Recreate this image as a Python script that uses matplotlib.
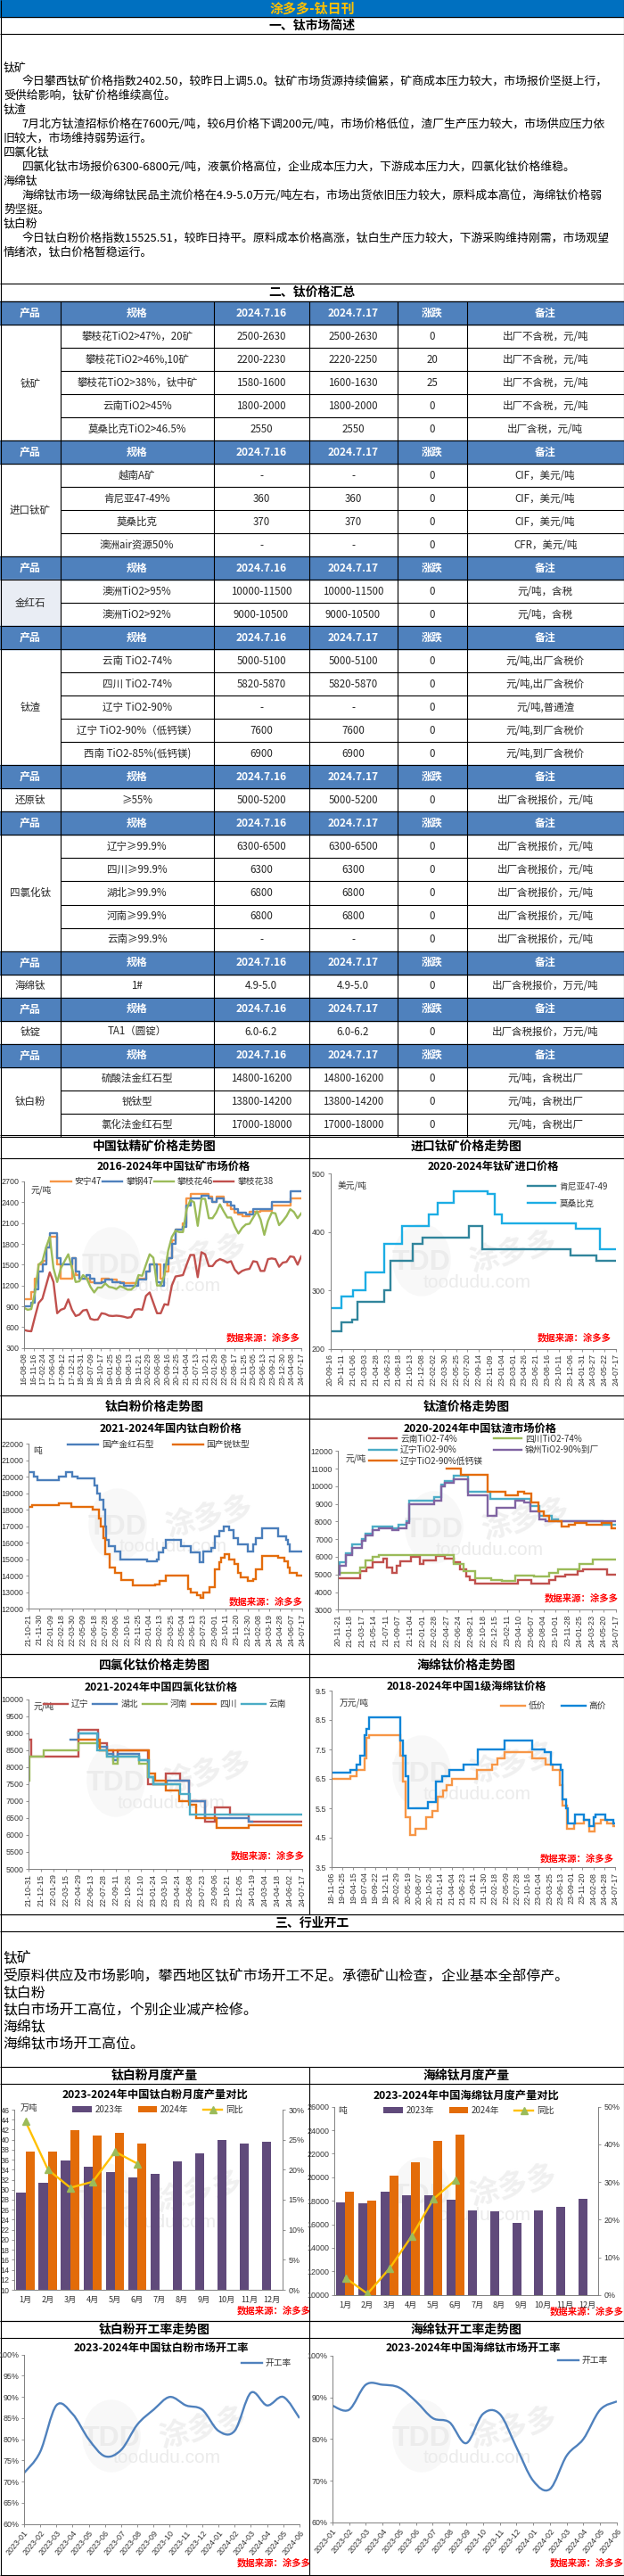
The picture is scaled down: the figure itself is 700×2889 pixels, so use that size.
import numpy as np
import matplotlib
matplotlib.use('Agg')
import matplotlib.pyplot as plt
from matplotlib.patches import Ellipse, PathPatch, Rectangle
from matplotlib.path import Path

plt.rcParams['font.family'] = ['Noto Sans CJK SC', 'DejaVu Sans']
plt.rcParams['axes.unicode_minus'] = False

# ---- text
market_lines = [
    (4, 76, '钛矿'),
    (24.5, 91, '今日攀西钛矿价格指数2402.50，较昨日上调5.0。钛矿市场货源持续偏紧，矿商成本压力较大，市场报价坚挺上行，'),
    (4, 107.5, '受供给影响，钛矿价格维续高位。'),
    (4, 123, '钛渣'),
    (24.5, 139, '7月北方钛渣招标价格在7600元/吨，较6月价格下调200元/吨，市场价格低位，渣厂生产压力较大，市场供应压力依'),
    (4, 155, '旧较大，市场维持弱势运行。'),
    (4, 171.5, '四氯化钛'),
    (24.5, 187, '四氯化钛市场报价6300-6800元/吨，液氯价格高位，企业成本压力大，下游成本压力大，四氯化钛价格维稳。'),
    (4, 203, '海绵钛'),
    (24.5, 219, '海绵钛市场一级海绵钛民品主流价格在4.9-5.0万元/吨左右，市场出货依旧压力较大，原料成本高位，海绵钛价格弱'),
    (4, 235.5, '势坚挺。'),
    (4, 251, '钛白粉'),
    (24.5, 267, '今日钛白粉价格指数15525.51，较昨日持平。原料成本价格高涨，钛白生产压力较大，下游采购维持刚需，市场观望'),
    (4, 283, '情绪浓，钛白价格暂稳运行。'),
]
industry_lines = [
    '钛矿',
    '受原料供应及市场影响，攀西地区钛矿市场开工不足。承德矿山检查，企业基本全部停产。',
    '钛白粉',
    '钛白市场开工高位，个别企业减产检修。',
    '海绵钛',
    '海绵钛市场开工高位。',
]

# ---- price tables
table_head = ['产品', '规格', '2024.7.16', '2024.7.17', '涨跌', '备注']
ore_rows = [
    ['攀枝花TiO2>47%，20矿', '2500-2630', '2500-2630', '0', '出厂不含税，元/吨'],
    ['攀枝花TiO2>46%,10矿', '2200-2230', '2220-2250', '20', '出厂不含税，元/吨'],
    ['攀枝花TiO2>38%，钛中矿', '1580-1600', '1600-1630', '25', '出厂不含税，元/吨'],
    ['云南TiO2>45%', '1800-2000', '1800-2000', '0', '出厂不含税，元/吨'],
    ['莫桑比克TiO2>46.5%', '2550', '2550', '0', '出厂含税，元/吨'],
]
import_rows = [
    ['越南A矿', '-', '-', '0', 'CIF，美元/吨'],
    ['肯尼亚47-49%', '360', '360', '0', 'CIF，美元/吨'],
    ['莫桑比克', '370', '370', '0', 'CIF，美元/吨'],
    ['澳洲air资源50%', '-', '-', '0', 'CFR，美元/吨'],
]
rutile_rows = [
    ['澳洲TiO2>95%', '10000-11500', '10000-11500', '0', '元/吨，含税'],
    ['澳洲TiO2>92%', '9000-10500', '9000-10500', '0', '元/吨，含税'],
]
slag_rows = [
    ['云南 TiO2-74%', '5000-5100', '5000-5100', '0', '元/吨,出厂含税价'],
    ['四川 TiO2-74%', '5820-5870', '5820-5870', '0', '元/吨,出厂含税价'],
    ['辽宁 TiO2-90%', '-', '-', '0', '元/吨,普通渣'],
    ['辽宁 TiO2-90%（低钙镁）', '7600', '7600', '0', '元/吨,到厂含税价'],
    ['西南 TiO2-85%(低钙镁)', '6900', '6900', '0', '元/吨,到厂含税价'],
]
reduced_rows = [['≥55%', '5000-5200', '5000-5200', '0', '出厂含税报价，元/吨']]
ticl4_rows = [
    ['辽宁≥99.9%', '6300-6500', '6300-6500', '0', '出厂含税报价，元/吨'],
    ['四川≥99.9%', '6300', '6300', '0', '出厂含税报价，元/吨'],
    ['湖北≥99.9%', '6800', '6800', '0', '出厂含税报价，元/吨'],
    ['河南≥99.9%', '6800', '6800', '0', '出厂含税报价，元/吨'],
    ['云南≥99.9%', '-', '-', '0', '出厂含税报价，元/吨'],
]
sponge_rows = [['1#', '4.9-5.0', '4.9-5.0', '0', '出厂含税报价，万元/吨']]
ingot_rows = [['TA1（圆锭）', '6.0-6.2', '6.0-6.2', '0', '出厂含税报价，万元/吨']]
white_rows = [
    ['硫酸法金红石型', '14800-16200', '14800-16200', '0', '元/吨，含税出厂'],
    ['锐钛型', '13800-14200', '13800-14200', '0', '元/吨，含税出厂'],
    ['氯化法金红石型', '17000-18000', '17000-18000', '0', '元/吨，含税出厂'],
]
table_groups = [
    ('钛矿', ore_rows), ('进口钛矿', import_rows), ('金红石', rutile_rows), ('钛渣', slag_rows),
    ('还原钛', reduced_rows), ('四氯化钛', ticl4_rows), ('海绵钛', sponge_rows),
    ('钛锭', ingot_rows), ('钛白粉', white_rows),
]

# ---- chart 1, china ore
ore_ticks = ['16-08-08', '16-11-16', '17-02-24', '17-06-04', '17-09-12', '17-12-21', '18-03-31', '18-07-09',
             '18-10-17', '19-01-25', '19-05-05', '19-08-13', '19-11-21', '20-02-29', '20-06-08', '20-09-16',
             '20-12-25', '21-04-04', '21-07-13', '21-10-21', '22-01-29', '22-05-09', '22-08-17', '22-11-25',
             '23-03-05', '23-06-13', '23-09-21', '23-12-30', '24-04-08', '24-07-17']
ore_anning = [1000, 1000, 1100, 1300, 1500, 1550, 1750, 1900, 1900, 1500, 1300, 1300, 1300, 1600, 1350, 1300, 1300, 1300, 1250, 1230,
              1230, 1300, 1300, 1280, 1280, 1250, 1250, 1240, 1240, 1240, 1240, 1300, 1300, 1400, 1500, 1500, 1500, 1300, 1400, 1600,
              1850, 2000, 2000, 2100, 2450, 2520, 2520, 2520, 2520, 2520, 2480, 2400, 2480, 2480, 2400, 2350, 2300, 2250, 2220, 2200,
              2200, 2260, 2260, 2260, 2270, 2270, 2280, 2350, 2350, 2350, 2350, 2350, 2450, 2450, 2450, 2450]
ore_pangang = [900, 900, 950, 1150, 1400, 1500, 1750, 1950, 1950, 1600, 1500, 1500, 1500, 1600, 1400, 1300, 1300, 1350, 1300, 1230,
               1230, 1250, 1280, 1280, 1250, 1250, 1230, 1200, 1200, 1200, 1200, 1280, 1280, 1400, 1500, 1500, 1250, 1200, 1500, 1600,
               1800, 2000, 2000, 2050, 2350, 2450, 2450, 2450, 2500, 2500, 2450, 2400, 2450, 2450, 2400, 2400, 2350, 2300, 2250, 2250,
               2220, 2220, 2300, 2300, 2300, 2300, 2300, 2400, 2400, 2400, 2400, 2400, 2560, 2560, 2560, 2560]
ore_pzh46 = [880, 850, 860, 1100, 1500, 1550, 1750, 1900, 1450, 1250, 1450, 1550, 1650, 1450, 1250, 1260, 1350, 1300, 1180, 1100,
             1170, 1170, 1230, 1180, 1170, 1150, 1190, 1170, 1140, 1140, 1190, 1350, 1340, 1500, 1650, 1600, 1200, 1200, 1350, 1700,
             1900, 1990, 1970, 1970, 2300, 2430, 2400, 2060, 2450, 2450, 2170, 2170, 2250, 2370, 2270, 2180, 2180, 2050, 1950, 2030,
             2080, 2090, 2180, 2270, 2150, 1930, 2130, 2250, 2240, 2070, 2130, 2200, 2300, 2260, 2170, 2240]
ore_pzh38 = [560, 545, 540, 750, 950, 1010, 1200, 1390, 1250, 800, 850, 870, 1000, 850, 760, 780, 840, 850, 720, 705,
             710, 800, 790, 765, 760, 765, 760, 750, 735, 745, 850, 860, 850, 1050, 1100, 950, 800, 800, 930, 920,
             1200, 1330, 1340, 1350, 1500, 1640, 1640, 1320, 1680, 1650, 1480, 1480, 1550, 1580, 1560, 1530, 1550, 1430, 1370, 1410,
             1430, 1440, 1550, 1540, 1410, 1410, 1580, 1590, 1580, 1470, 1530, 1540, 1620, 1610, 1500, 1620]

# ---- chart 2, imported ore (change points, in tick numbers)
imp_ticks = ['20-09-16', '20-11-11', '21-01-06', '21-03-03', '21-04-28', '21-06-23', '21-08-18', '21-10-13', '21-12-08',
             '22-02-02', '22-03-30', '22-05-25', '22-07-20', '22-09-14', '22-11-09', '23-01-04', '23-03-01', '23-04-26',
             '23-06-21', '23-08-16', '23-10-11', '23-12-06', '24-01-31', '24-03-27', '24-05-22', '24-07-17']
imp_kenya_at = [0, 1.0, 1.9, 2.4, 4.7, 5.25, 7.25, 8.1, 12.1, 13.3, 21, 23.3, 25]
imp_kenya = [230, 245, 250, 280, 300, 350, 380, 390, 410, 370, 360, 350, 350]
imp_moz_at = [0, 1.0, 2.0, 3.1, 4.7, 6.3, 8.6, 9.4, 10.8, 13.8, 14.4, 15.0, 21.5, 23.6, 25]
imp_moz = [270, 290, 300, 330, 380, 410, 430, 450, 470, 465, 430, 415, 405, 370, 370]

# ---- chart 3, titanium dioxide
tio2_ticks = ['21-10-21', '21-11-30', '22-01-09', '22-02-18', '22-03-30', '22-05-09', '22-06-18', '22-07-28', '22-09-06',
              '22-10-16', '22-11-25', '23-01-04', '23-02-13', '23-03-25', '23-05-04', '23-06-13', '23-07-23', '23-09-01',
              '23-10-11', '23-11-20', '23-12-30', '24-02-08', '24-03-19', '24-04-28', '24-06-07', '24-07-17']
tio2_rutile_at = [0, .5, .8, 2.8, 3.4, 4, 4.5, 6, 6.3, 6.5, 6.8, 7, 7.1, 7.3, 7.9, 8.4, 10.8, 11.7, 11.9, 12.3, 12.5, 13.9, 14.8, 15.6,
                  16, 16.7, 17, 17.4, 17.8, 18.3, 18.7, 19.1, 20, 20.5, 20.8, 21.3, 22.8, 23.5, 23.7, 23.9, 25]
tio2_rutile = [20300, 20000, 19800, 20000, 20300, 20000, 19900, 19500, 19000, 18600, 18000, 17000, 16200, 15800, 15500, 15000, 14900,
               15000, 15400, 15700, 16200, 15800, 15400, 14800, 15500, 15700, 16400, 16700, 17000, 16800, 16300, 15900, 15500, 15900,
               16300, 16900, 16400, 16200, 15900, 15500, 15500]
tio2_anatase_at = [0, .3, 2.8, 3.9, 5.9, 6.4, 6.6, 6.8, 7, 7.4, 7.9, 8.5, 9.5, 11.6, 12, 12.5, 14.6, 14.8, 15.4, 15.7, 16, 16.5, 17,
                   17.4, 17.6, 17.9, 18.3, 18.8, 19.1, 19.4, 20, 20.5, 20.8, 21.3, 22.8, 23.4, 23.7, 23.9, 24.5, 25]
tio2_anatase = [18200, 18300, 18400, 18200, 18000, 17500, 17000, 16300, 15300, 14500, 14200, 13750, 13400, 13500, 13700, 14000, 13200,
                13000, 12800, 12650, 13000, 13300, 14400, 14800, 15100, 15300, 15000, 14700, 14200, 13900, 13700, 13800, 14400, 15200,
                15100, 14900, 14500, 14200, 14000, 14000]

# ---- chart 4, slag
slag_ticks = ['20-11-21', '21-01-18', '21-03-17', '21-05-14', '21-07-11', '21-09-07', '21-11-04', '22-01-01', '22-02-28',
              '22-04-27', '22-06-24', '22-08-21', '22-10-18', '22-12-15', '23-02-11', '23-04-10', '23-06-07', '23-08-04',
              '23-10-01', '23-11-28', '24-01-25', '24-03-23', '24-05-20', '24-07-17']
slag_yn_at = [0, 1.9, 2.4, 2.9, 3.8, 4.1, 4.5, 4.9, 5.2, 6.1, 6.8, 7.1, 8.1, 8.9, 9.6, 10.1, 10.6, 10.9, 11.4, 14.9, 16, 17.5, 18, 18.8, 19.8, 20.3, 22.3, 23]
slag_yn = [4800, 5200, 5400, 5700, 5900, 5400, 5100, 5500, 5750, 6000, 5600, 5800, 6050, 5900, 5700, 5300, 4900, 4700, 4500, 4700, 4500, 4700, 4900, 5000, 5200, 5300, 5000, 5000]
slag_sc_at = [0, .2, 1.9, 2.3, 2.9, 3.4, 9.6, 10.4, 11.4, 12.7, 13.6, 14.7, 16.2, 17.5, 18.2, 20, 21.1, 23]
slag_sc = [5000, 5100, 5400, 5800, 6000, 6100, 5600, 5200, 4800, 4700, 4650, 4950, 4900, 5100, 5300, 5600, 5850, 5850]
slag_ln_at = [0, .2, .7, 1.2, 2, 2.3, 2.9, 4.5, 5, 5.7, 5.9, 8, 8.6, 8.9, 9.6, 10.8, 12.6, 15.9, 16.7, 17.7, 18.2, 21.9, 23]
slag_ln = [5200, 5700, 6200, 6700, 7000, 7300, 7700, 7600, 7800, 8000, 9200, 9400, 10100, 10300, 10600, 9700, 9300, 8900, 8300, 8100, 8000, 7800, 7800]
slag_jz_at = [0, .2, .7, 1.2, 2, 2.3, 2.9, 3.4, 4.5, 5, 5.7, 5.9, 8, 8.6, 8.9, 9.6, 10.8, 12.4, 13.1, 14.7, 15.4, 15.9, 16.7, 17.2, 23]
slag_jz = [5000, 5500, 6100, 6500, 6900, 7200, 7500, 7600, 7500, 7600, 7900, 9000, 9200, 10000, 10200, 10400, 9500, 8300, 8800, 9200, 9100, 8600, 8100, 8000, 8000]
slag_low_at = [9.0, 10.2, 12.4, 13.9, 14.9, 15.4, 16, 16.6, 17, 17.5, 18.5, 19.1, 19.6, 20.6, 21.8, 22.6, 23]
slag_low = [11000, 10650, 9700, 9500, 9700, 9600, 9100, 8600, 8300, 8000, 7700, 7800, 7900, 7800, 7900, 7600, 7600]

# ---- chart 5, titanium tetrachloride
tet_ticks = ['21-10-31', '21-12-15', '22-01-29', '22-03-15', '22-04-29', '22-06-13', '22-07-28', '22-09-11', '22-10-26',
             '22-12-10', '23-01-24', '23-03-10', '23-04-24', '23-06-08', '23-07-23', '23-09-06', '23-10-21', '23-12-05',
             '24-01-19', '24-03-04', '24-04-18', '24-06-02', '24-07-17']
tet_ln_at = [0, .25, 4, 5.6, 6.3, 6.8, 7.2, 9.6, 11.05, 12.2, 12.9, 14.2, 15, 16.2, 17.7, 22]
tet_ln = [8800, 8300, 9100, 8700, 8500, 8300, 8500, 7500, 7800, 7600, 7000, 6400, 6800, 6600, 6400, 6400]
tet_hb_at = [3.4, 4, 5.6, 6.3, 6.8, 7.2, 8.9, 9.6, 10, 11.1, 12.9, 14.2, 17.7, 18]
tet_hb = [8800, 9000, 8600, 8400, 8200, 8400, 8200, 7700, 7500, 7600, 7000, 6500, 6400, 6400]
tet_hn_at = [0, .05, 1.2, 4, 5.7, 6.3, 6.8, 7.2, 8.9, 9.6, 10, 12.2]
tet_hn = [7600, 8300, 8500, 8700, 8500, 8300, 8100, 8300, 8100, 7700, 7500, 7500]
tet_sc_at = [4, 5.7, 9.7, 10.2, 11, 12.1, 12.9, 13.5, 15.1, 17.7, 22]
tet_sc = [8800, 8500, 7800, 7600, 7300, 7000, 6900, 6500, 6200, 6300, 6300]
tet_yn_at = [4, 5.5, 6.3, 7.2, 8.9, 9.7, 10, 12.2, 13, 22]
tet_yn = [9000, 8500, 8300, 8300, 8200, 7700, 7500, 7200, 6600, 6600]

# ---- chart 6, sponge
spg_ticks = ['18-11-06', '19-01-25', '19-04-15', '19-07-04', '19-09-22', '19-12-11', '20-02-29', '20-05-19', '20-08-07',
             '20-10-26', '21-01-14', '21-04-04', '21-06-23', '21-09-11', '21-11-30', '22-02-18', '22-05-09', '22-07-28',
             '22-10-16', '23-01-04', '23-03-25', '23-06-13', '23-09-01', '23-11-20', '24-02-08', '24-04-28', '24-07-17']
spg_low_at = [0, 1.7, 2.3, 3, 3.2, 3.4, 6.3, 6.5, 6.75, 7.2, 7.7, 8.65, 9.2, 9.7, 10.2, 10.55, 11, 13.3, 14.7, 15.2, 15.9, 18.4, 19.6,
              20.3, 20.9, 21.2, 21.6, 22.2, 23.1, 23.6, 24.1, 24.7, 25.3, 25.8, 26]
spg_low = [6.5, 6.6, 6.8, 7.2, 7.9, 8.0, 7.3, 6.4, 5.2, 4.6, 4.8, 5.2, 5.4, 5.9, 6.1, 6.3, 6.5, 6.8, 7.0, 7.2, 7.4, 7.2, 7.0, 6.8, 6.3,
           5.6, 4.8, 5.0, 5.1, 4.7, 5.0, 5.1, 5.0, 4.9, 4.9]
spg_high_at = [0, 1.7, 2.3, 2.6, 3, 3.2, 3.4, 6.3, 6.5, 6.75, 7, 8.8, 9.6, 10.1, 10.8, 12.1, 13.4, 15.9, 18.4, 19.5, 20.1, 21, 21.2,
               21.5, 21.7, 22.3, 23.1, 23.6, 24, 24.2, 25.1, 25.8, 26]
spg_high = [6.7, 6.8, 7.0, 7.3, 8.0, 8.2, 8.6, 7.8, 7.3, 6.6, 5.5, 5.7, 6.4, 6.6, 6.8, 7.0, 7.5, 7.8, 7.5, 7.4, 7.0, 6.8, 5.8, 5.5, 5.0,
            5.3, 5.1, 4.9, 5.2, 5.3, 5.1, 5.0, 5.0]

# ---- output
months = ['1月', '2月', '3月', '4月', '5月', '6月', '7月', '8月', '9月', '10月', '11月', '12月']
tio2_out_2023 = [29.5, 31.4, 35.8, 34.6, 33.6, 32.4, 33.1, 35.6, 37.2, 39.9, 39.2, 39.5]
tio2_out_2024 = [37.7, 37.7, 41.9, 40.8, 41.4, 39.2]
tio2_out_yoy = [28, 20, 17, 18, 23, 21]
spg_out_2023 = [17900, 17750, 18800, 18450, 18450, 18100, 17200, 17100, 16150, 17150, 17500, 18200]
spg_out_2024 = [18750, 18000, 20150, 21300, 23100, 23650]
spg_out_yoy = [4.5, 0.3, 7, 15.5, 25.5, 30.5]

# ---- operating rate
rate_ticks = ['2023-01', '2023-02', '2023-03', '2023-04', '2023-05', '2023-06', '2023-07', '2023-08', '2023-09',
              '2023-10', '2023-11', '2023-12', '2024-01', '2024-02', '2024-03', '2024-04', '2024-05', '2024-06']
tio2_rate = [72, 77, 88, 86, 80, 76, 77.5, 83.5, 87, 90, 88, 87, 82, 82, 91, 88, 90, 85]
spg_rate = [88, 87, 93, 93, 92.3, 89, 85, 84, 79, 86, 86, 78, 70, 68, 76, 80, 87, 89]

W, H = 700, 2889
COLS = [0, 68, 239.5, 346.5, 445.5, 523.7, 699.5]
HEAD_BLUE = '#4F81BD'
TXT = '#262626'
LATIN = 'Liberation Sans'

fig = plt.figure(figsize=(W / 100, H / 100), dpi=100, facecolor='white')
base = fig.add_axes([0, 0, 1, 1], zorder=0)
base.set_xlim(0, W)
base.set_ylim(H, 0)
base.axis('off')


def hline(y, x0=0, x1=W):
    base.plot([x0, x1], [y, y], color='black', lw=0.8, solid_capstyle='butt', zorder=3)


def vline(x, y0, y1):
    base.plot([x, x], [y0, y1], color='black', lw=0.8, solid_capstyle='butt', zorder=3)


def ctext(x, y, s, size=8.3, color=TXT, weight='normal', **kw):
    base.text(x, y, s, ha='center', va='center', fontsize=size, color=color, fontweight=weight, zorder=4, **kw)


def band(y0, y1, s):
    hline(y0)
    hline(y1)
    ctext(W / 2, (y0 + y1) / 2, s, size=10, color='black', weight='bold')


# top of the page
base.add_patch(Rectangle((0, 0), W, 19, color='#0070C0', zorder=1))
ctext(W / 2, 10, '涂多多-钛日刊', size=10.8, color='#FFC000', weight='bold')
band(19, 38, '一、钛市场简述')
for lx, ly, s in market_lines:
    base.text(lx, ly, s, ha='left', va='center', fontsize=9.3, color='black')
band(318, 338, '二、钛价格汇总')

# tables
y = 338
row_h = 26.02
for product, rows in table_groups:
    base.add_patch(Rectangle((0, y), W, row_h, color=HEAD_BLUE, zorder=1))
    for i, s in enumerate(table_head):
        ctext((COLS[i] + COLS[i + 1]) / 2, y + row_h / 2, s, color='white', weight='bold', size=8.6)
    for c in COLS[1:-1]:
        vline(c, y, y + row_h)
    hline(y)
    y += row_h
    top = y
    if product == '金红石':
        base.add_patch(Rectangle((0, y), COLS[1], row_h * len(rows), color='#E9EDF4', zorder=1))
    for row in rows:
        for i, s in enumerate(row):
            ctext((COLS[i + 1] + COLS[i + 2]) / 2, y + row_h / 2, s)
        hline(y, COLS[1], W)
        y += row_h
    hline(top)
    ctext(COLS[1] / 2, (top + y) / 2, product)
    for c in COLS[1:-1]:
        vline(c, top, y)
hline(y)

# chart rows of the page
MID = 346.5
page_rows = [
    (1273, 1299, 1565, '中国钛精矿价格走势图', '进口钛矿价格走势图'),
    (1565, 1591, 1855, '钛白粉价格走势图', '钛渣价格走势图'),
    (1855, 1881, 2147, '四氯化钛价格走势图', '海绵钛价格走势图'),
    (2318, 2337, 2603, '钛白粉月度产量', '海绵钛月度产量'),
    (2603, 2622, 2888, '钛白粉开工率走势图', '海绵钛开工率走势图'),
]
for y0, y1, y2, left, right in page_rows:
    hline(y0)
    hline(y1)
    hline(y2)
    vline(MID, y0, y2)
    ctext(MID / 2, (y0 + y1) / 2, left, size=10, color='black', weight='bold')
    ctext((MID + W) / 2, (y0 + y1) / 2, right, size=10, color='black', weight='bold')

band(2147, 2166, '三、行业开工')
for i, s in enumerate(industry_lines):
    base.text(3, 2197 + i * 19.2, s, ha='left', va='center', fontsize=11.4, color='black')

vline(0.5, 0, 2888)
vline(699.5, 0, 2888)


def watermark(cx, cy):
    base.add_patch(Ellipse((cx, cy), 64, 80, color='#F8F8F8', zorder=1))
    base.text(cx, cy + 3, 'TDD', ha='center', va='center', fontsize=23, color='#ECECEC',
              fontweight='bold', family=LATIN, zorder=1)
    base.text(cx + 103, cy - 8, '涂多多', ha='center', va='center', fontsize=24, color='#F0F0F0',
              fontweight='bold', rotation=14, zorder=1)
    base.text(cx + 62, cy + 25, 'toodudu.com', ha='center', va='center', fontsize=15, color='#EBEBEB',
              family=LATIN, zorder=1)


def chart(x0, x1, y_top, y_bot, title, title_xy, source_xy, logo_xy, unit=None, unit_xy=None):
    watermark(*logo_xy)
    ax = fig.add_axes([x0 / W, 1 - y_bot / H, (x1 - x0) / W, (y_bot - y_top) / H], zorder=2)
    ax.patch.set_alpha(0)
    for side in ['top', 'right']:
        ax.spines[side].set_visible(False)
    for side in ['left', 'bottom']:
        ax.spines[side].set_color('#808080')
        ax.spines[side].set_linewidth(0.7)
    ax.tick_params(colors='#808080', labelcolor='#333333', length=2.5, width=0.6, labelsize=6.4, pad=1.5)
    ctext(title_xy[0], title_xy[1], title, size=8.8, color='black', weight='bold')
    base.text(source_xy[0], source_xy[1], '数据来源：涂多多', ha='center', va='center', fontsize=7.5, color='#FF0000',
              fontweight='bold', style='italic', zorder=4)
    if unit:
        ctext(unit_xy[0], unit_xy[1], unit, size=7, color='#333333')
    return ax


def set_axis(ax, xmax, ticks, ylim, yticks, ylabels=None):
    ax.set_xlim(0, xmax)
    ax.set_ylim(*ylim)
    ax.set_yticks(yticks)
    if ylabels:
        ax.set_yticklabels(ylabels)
    ax.set_xticks(range(len(ticks)))
    ax.set_xticklabels(ticks, rotation=90, family=LATIN)
    for t in ax.get_yticklabels():
        t.set_family(LATIN)


def legend(ax, cx, cy, ncol=1, size=7, columnspacing=0.8, handlelength=2.4, labelspacing=0.15, order=None):
    handles, labels = ax.get_legend_handles_labels()
    if order:
        handles = [handles[i] for i in order]
        labels = [labels[i] for i in order]
    ax.legend(handles, labels, loc='center', bbox_to_anchor=(cx / W, 1 - cy / H), bbox_transform=fig.transFigure, ncol=ncol,
              frameon=False, prop={'family': ['Noto Sans CJK SC', 'DejaVu Sans'], 'size': size},
              columnspacing=columnspacing, handlelength=handlelength, handletextpad=0.4,
              labelspacing=labelspacing, borderpad=0, borderaxespad=0, labelcolor='#333333')


def step(ax, at, values, color, label, lw=1.7):
    ax.step(at, values, where='post', color=color, lw=lw, label=label, solid_joinstyle='miter')


def smooth_rate(ax, values, color, label):
    # Excel style smoothed line through the monthly values
    pts = np.column_stack([np.arange(len(values)), values]).astype(float)
    verts = [pts[0]]
    codes = [Path.MOVETO]
    for i in range(len(pts) - 1):
        p0 = pts[max(i - 1, 0)]
        p1 = pts[i]
        p2 = pts[i + 1]
        p3 = pts[min(i + 2, len(pts) - 1)]
        verts += [p1 + (p2 - p0) / 6, p2 - (p3 - p1) / 6, p2]
        codes += [Path.CURVE4] * 3
    ax.add_patch(PathPatch(Path(verts, codes), fc='none', ec=color, lw=1.7))
    ax.plot([], [], color=color, lw=1.7, label=label)


# chart 1
ax = chart(26.8, 338, 1325, 1511.7, '2016-2024年中国钛矿市场价格', (195, 1308), (295, 1500), (125, 1417), '元/吨', (46, 1335))
ore_x = np.arange(len(ore_anning)) / 3
ax.plot(ore_x, ore_anning, color='#F79646', lw=1.7, label='安宁47', drawstyle='steps-post')
ax.plot(ore_x, ore_pangang, color='#4F81BD', lw=1.7, label='攀钢47', drawstyle='steps-post')
ax.plot(ore_x, ore_pzh46, color='#9BBB59', lw=1.7, label='攀枝花46')
ax.plot(ore_x, ore_pzh38, color='#C0504D', lw=1.7, label='攀枝花38')
set_axis(ax, 25, ore_ticks[:26], (300, 2700), range(300, 2701, 300))
ax.set_xticks(np.arange(30) * 25 / 29)
ax.set_xticklabels(ore_ticks, rotation=90, family=LATIN)
legend(ax, 182, 1325, ncol=4, columnspacing=0.1, handlelength=2.3)

# chart 2
ax = chart(370.5, 691, 1316, 1512.7, '2020-2024年钛矿进口价格', (553.5, 1308), (644, 1500), (473, 1413), '美元/吨', (395, 1330))
step(ax, imp_kenya_at, imp_kenya, '#31859C', '肯尼亚47-49')
step(ax, imp_moz_at, imp_moz, '#1CADE4', '莫桑比克')
set_axis(ax, 25, imp_ticks, (200, 500), [200, 300, 400, 500])
legend(ax, 637, 1340, handlelength=3.2, labelspacing=0.9)

# chart 3
ax = chart(32, 339, 1619.3, 1804.3, '2021-2024年国内钛白粉价格', (192, 1602), (298, 1796), (132, 1710), '吨', (42, 1627))
step(ax, tio2_rutile_at, tio2_rutile, '#4A7EBB', '国产金红石型')
step(ax, tio2_anatase_at, tio2_anatase, '#E46C0A', '国产锐钛型')
set_axis(ax, 25, tio2_ticks, (12000, 22000), range(12000, 22001, 1000))
legend(ax, 178, 1620, ncol=2, columnspacing=2.2, handlelength=3.5)

# chart 4
ax = chart(378.6, 691, 1627.3, 1805.3, '2020-2024年中国钛渣市场价格', (539, 1602), (652, 1792), (487, 1713), '元/吨', (399, 1636))
step(ax, slag_yn_at, slag_yn, '#C0504D', '云南TiO2-74%')
step(ax, slag_sc_at, slag_sc, '#9BBB59', '四川TiO2-74%')
step(ax, slag_ln_at, slag_ln, '#4BACC6', '辽宁TiO2-90%')
step(ax, slag_jz_at, slag_jz, '#8064A2', '锦州TiO2-90%到厂')
step(ax, slag_low_at, slag_low, '#E46C0A', '辽宁TiO2-90%低钙镁')
set_axis(ax, 23, slag_ticks, (3000, 12000), range(3000, 12001, 1000))
legend(ax, 543, 1626, ncol=2, columnspacing=1.2, handlelength=3.2, labelspacing=0.25, order=[0, 2, 4, 1, 3])

# chart 5
ax = chart(32, 339, 1905.7, 2096, '2021-2024年中国四氯化钛价格', (181, 1892), (300, 2081), (130, 1997), '元/吨', (49, 1914))
step(ax, tet_ln_at, tet_ln, '#C0504D', '辽宁')
step(ax, tet_hb_at, tet_hb, '#4F81BD', '湖北')
step(ax, tet_hn_at, tet_hn, '#9BBB59', '河南')
step(ax, tet_sc_at, tet_sc, '#E46C0A', '四川')
step(ax, tet_yn_at, tet_yn, '#4BACC6', '云南')
set_axis(ax, 22, tet_ticks, (5000, 10000), range(5000, 10001, 500))
legend(ax, 185, 1911, ncol=5, columnspacing=0.5, handlelength=2.8)

# chart 6
ax = chart(372, 690, 1896, 2094, '2018-2024年中国1级海绵钛价格', (523.7, 1891), (647, 2084), (473, 1987), '万元/吨', (397, 1910))
step(ax, spg_low_at, spg_low, '#F79646', '低价')
step(ax, spg_high_at, spg_high, '#0F85D8', '高价')
set_axis(ax, 26, spg_ticks, (3.5, 9.5), [3.5, 4.5, 5.5, 6.5, 7.5, 8.5, 9.5], ['3.5', '4.5', '5.5', '6.5', '7.5', '8.5', '9.5'])
legend(ax, 621, 1913, ncol=2, columnspacing=1.8, handlelength=2.8)


def output_chart(box, title, title_xy, source_xy, logo_xy, unit_xy, unit, v23, v24, yoy, ylim, yticks, rmax, rticks, legend_xy):
    ax = chart(*box, title, title_xy, source_xy, logo_xy, unit, unit_xy)
    x = np.arange(len(months))
    ax.bar(x - 0.205, v23, 0.41, color='#604A7B', label='2023年')
    ax.bar(np.arange(len(v24)) + 0.205, v24, 0.41, color='#E36C09', label='2024年')
    ax.set_xlim(-0.5, 11.5)
    ax.set_ylim(*ylim)
    ax.set_yticks(yticks)
    ax.set_xticks(x)
    ax.set_xticklabels(months, fontsize=6.6)
    ax.tick_params(axis='x', length=0, pad=5)
    for t in ax.get_yticklabels():
        t.set_family(LATIN)
    ax2 = ax.twinx()
    ax2.patch.set_alpha(0)
    ax2.plot(np.arange(len(yoy)) + 0.01, yoy, color='#FFC000', lw=1.7, marker='^', ms=5.5, mfc='#9BBB59', mec='#9BBB59', label='同比')
    ax2.set_ylim(0, rmax)
    ax2.set_yticks(rticks)
    ax2.set_yticklabels([f'{v}%' for v in rticks], family=LATIN)
    for side in ['top', 'left', 'bottom']:
        ax2.spines[side].set_visible(False)
    ax2.spines['right'].set_color('#808080')
    ax2.spines['right'].set_linewidth(0.7)
    ax2.tick_params(colors='#808080', labelcolor='#333333', length=2.5, width=0.6, labelsize=6.4, pad=2)
    h1, l1 = ax.get_legend_handles_labels()
    h2, l2 = ax2.get_legend_handles_labels()
    ax2.legend(h1 + h2, l1 + l2, loc='center', bbox_to_anchor=(legend_xy[0] / W, 1 - legend_xy[1] / H),
               bbox_transform=fig.transFigure, ncol=3, frameon=False, prop={'size': 7}, columnspacing=1.7, handlelength=2.2,
               handletextpad=0.4, borderpad=0, labelcolor='#333333')


# chart 7, 8
output_chart((16, 317, 2366, 2568), '2023-2024年中国钛白粉月度产量对比', (174, 2349), (307, 2591), (120, 2467), (32, 2364), '万吨',
             tio2_out_2023, tio2_out_2024, tio2_out_yoy, (10, 46), range(10, 47, 2), 30, [0, 5, 10, 15, 20, 25, 30], (177, 2366))
output_chart((375, 671, 2362.7, 2573.7), '2023-2024年中国海绵钛月度产量对比', (523, 2350), (658, 2592), (473, 2460), (384, 2367), '吨',
             spg_out_2023, spg_out_2024, spg_out_yoy, (10000, 26000), range(10000, 26001, 2000), 50, [0, 10, 20, 30, 40, 50], (526, 2367))


def rate_chart(box, title, title_xy, source_xy, logo_xy, values, ylim, yticks, legend_xy):
    ax = chart(*box, title, title_xy, source_xy, logo_xy)
    smooth_rate(ax, values, '#4F81BD', '开工率')
    ax.set_xlim(0, len(values) - 1)
    ax.set_ylim(*ylim)
    ax.set_yticks(yticks)
    ax.set_yticklabels([f'{v}%' for v in yticks], family=LATIN)
    ax.set_xticks(range(len(rate_ticks)))
    ax.set_xticklabels(rate_ticks, rotation=50, ha='right', rotation_mode='anchor', family=LATIN)
    legend(ax, legend_xy[0], legend_xy[1], handlelength=2.4)


# chart 9, 10
rate_chart((26.8, 336, 2640.7, 2830.7), '2023-2024年中国钛白粉市场开工率', (181, 2633), (307, 2874), (125, 2732),
           tio2_rate, (60, 100), range(60, 101, 5), (299, 2650))
rate_chart((372.8, 692, 2641.7, 2829), '2023-2024年中国海绵钛市场开工率', (531, 2633), (658, 2874), (473, 2732),
           spg_rate, (60, 100), range(60, 101, 10), (654, 2647))

fig.savefig('out.png', dpi=100)
